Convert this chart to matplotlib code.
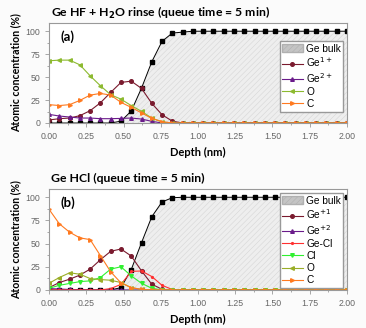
import numpy as np
import matplotlib.pyplot as plt
from matplotlib.patches import Patch
from matplotlib.ticker import MultipleLocator

plt.rcParams['font.family'] = ['Liberation Sans', 'DejaVu Sans']
plt.rcParams['hatch.color'] = '#d0d0d0'
plt.rcParams['hatch.linewidth'] = 0.4

depth = np.linspace(0, 2, 30)

# panel (a): HF + H2O rinse
a_bulk = [0, 0, 0, 0, 0, 0, 0, 2, 13, 38, 66.7, 89, 98, 99] + [100] * 16
a_ge1 = [3.3, 4.7, 5.4, 8, 13.4, 22, 33.3, 44.2, 45.6, 37.7, 21.4, 9, 2] + [0] * 17
a_ge2 = [9.4, 7.6, 6.5, 5.4, 5.4, 4.7, 4.7, 5, 5.4, 4.3, 1.8] + [0] * 19
a_o = [67.8, 68.5, 68.5, 63.4, 51.4, 40.6, 30.8, 26, 19, 12.7, 5.4, 1] + [0] * 18
a_c = [20, 19, 20, 24.6, 30.4, 32.2, 30.4, 22.5, 17, 11, 5, 1.5] + [0] * 18

# panel (b): HCl
b_bulk = [0, 0, 0, 0, 0, 0, 0, 2.5, 22, 51, 79, 95, 99.5] + [100] * 17
b_ge1 = [2.5, 8, 11.6, 16, 22.5, 32.6, 41.7, 44.2, 36.6, 20.6, 6.2, 0.7] + [0] * 18
b_ge2 = [1.5, 1, 0.5, 0.3] + [0] * 26
b_gecl = [0, 0, 0, 0, 0, 0, 1.5, 6, 20, 20.5, 14.5, 5, 0.5] + [0] * 17
b_cl = [1.8, 5, 7, 9, 9.8, 13.4, 22.5, 25, 15.2, 7.2, 1.8, 0] + [0] * 18
b_o = [7.2, 13.4, 18.5, 17, 12.3, 11.2, 10.5, 8, 2.5, 0.6] + [0] * 20
b_c = [87, 71.4, 62.3, 56.2, 54.3, 37, 19.6, 7.6, 2.5, 0.7] + [0] * 20

fig = plt.figure(figsize=(3.66, 3.28), dpi=100)
fig.patch.set_facecolor('#fbfbfb')

def setup(ax):
    ax.set_xlim(0, 2)
    ax.set_ylim(0, 109)
    ax.xaxis.set_major_locator(MultipleLocator(0.25))
    ax.xaxis.set_minor_locator(MultipleLocator(0.125))
    ax.yaxis.set_major_locator(MultipleLocator(25))
    ax.yaxis.set_minor_locator(MultipleLocator(12.5))
    ax.xaxis.set_major_formatter(lambda v, p: '%.2f' % v)
    for s in ax.spines.values():
        s.set_color('#999999')
        s.set_linewidth(0.8)
    ax.tick_params(which='both', colors='#999999', labelcolor='#666666',
                   labelsize=6.3, direction='out', width=0.6)
    ax.tick_params(which='major', length=3)
    ax.tick_params(which='minor', length=1.5)
    ax.set_xlabel('Depth (nm)', fontsize=8, fontweight='bold', family='Lato', labelpad=4)
    ax.set_ylabel('Atomic concentration (%)', fontsize=7.6, fontweight='bold', family='Lato', labelpad=3)

def bulk(ax, y):
    ax.fill_between(depth, 0, y, facecolor='#eeeeee', edgecolor='#d6d6d6', hatch='//////', linewidth=0)
    ax.plot(depth, y, color='black', marker='s', ms=2.2, lw=0.7)

def series(ax, y, c, m, lab):
    ax.plot(depth, y, color=c, marker=m, ms=2.6, lw=0.8, label=lab)

bulk_patch = Patch(facecolor='#c4c4c4', edgecolor='#b0b0b0', hatch='//////', label='Ge bulk')
leg_kw = dict(fontsize=7.3, frameon=True, fancybox=False, edgecolor='#999999', framealpha=1,
              handlelength=2.0, handleheight=0.9, borderpad=0.25, labelspacing=0.2,
              handletextpad=0.35, borderaxespad=0.2)

ax1 = fig.add_axes([0.134, 0.625, 0.814, 0.305])
bulk(ax1, a_bulk)
series(ax1, a_ge1, '#7a1a2e', 'o', 'Ge$^{1+}$')
series(ax1, a_ge2, '#6a1b8a', '^', 'Ge$^{2+}$')
series(ax1, a_o, '#8dba30', '<', 'O')
series(ax1, a_c, '#ff7a20', '>', 'C')
setup(ax1)
h, l = ax1.get_legend_handles_labels()
ax1.legend([bulk_patch] + h, ['Ge bulk'] + l, loc='upper right',
           bbox_to_anchor=(0.995, 0.84), **leg_kw)
ax1.text(0.04, 0.93, '(a)', transform=ax1.transAxes, fontsize=9.5, fontweight='bold',
         family='Lato', va='top')
fig.text(0.139, 0.962, 'Ge HF + H$_\\mathbf{2}$O rinse (queue time = 5 min)', fontsize=8.8,
         fontweight='bold', family='Lato', va='center')

ax2 = fig.add_axes([0.134, 0.116, 0.814, 0.308])
bulk(ax2, b_bulk)
series(ax2, b_ge1, '#7a1a2e', 'o', 'Ge$^{+1}$')
series(ax2, b_ge2, '#6a1b8a', '^', 'Ge$^{+2}$')
series(ax2, b_gecl, '#ff3030', '.', 'Ge-Cl')
series(ax2, b_cl, '#30f030', 'v', 'Cl')
series(ax2, b_o, '#9aae28', '<', 'O')
series(ax2, b_c, '#ff7a20', '>', 'C')
setup(ax2)
h, l = ax2.get_legend_handles_labels()
ax2.legend([bulk_patch] + h, ['Ge bulk'] + l, loc='lower right',
           bbox_to_anchor=(0.995, 0.0), **leg_kw)
ax2.text(0.04, 0.93, '(b)', transform=ax2.transAxes, fontsize=9.5, fontweight='bold',
         family='Lato', va='top')
fig.text(0.139, 0.457, 'Ge HCl (queue time = 5 min)', fontsize=8.8,
         fontweight='bold', family='Lato', va='center')

fig.savefig('out.png', dpi=100, facecolor=fig.get_facecolor())
